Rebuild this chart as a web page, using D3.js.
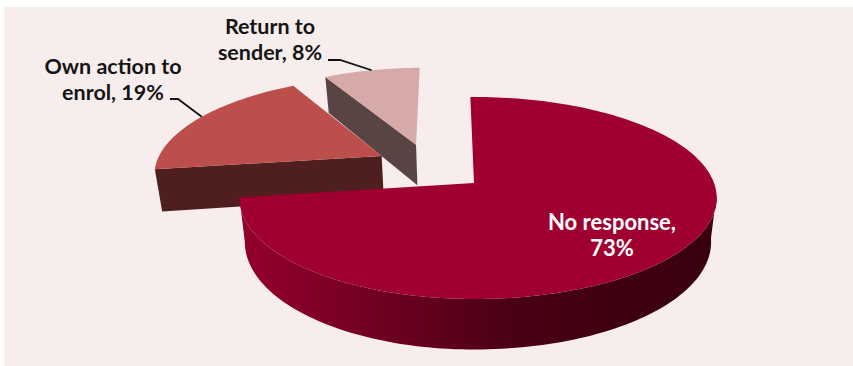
<!DOCTYPE html>
<html>
<head>
<meta charset="utf-8">
<script src="https://cdnjs.cloudflare.com/ajax/libs/d3/7.8.5/d3.min.js"></script>
<style>
  html, body { margin: 0; padding: 0; background: #fff; }
  svg { display: block; }
  text { font-family: Lato, "Open Sans", sans-serif; font-weight: 700; }
</style>
</head>
<body>
<svg id="chart" width="853" height="366"></svg>
<script>
// Share of each outcome, in drawing order around the pie
const categories = ["No response", "Own action to enrol", "Return to sender"];
const shares = [73, 19, 8];
const topColours = ["#a00030", "#bc4f4b", "#d8a9a9"];
const wallColours = ["#5a001c", "#4f1e1e", "#584543"];
const labelLines = [["No response,", "73%"], ["Own action to", "enrol, 19%"], ["Return to", "sender, 8%"]];
const labelColours = ["#ffffff", "#151515", "#151515"];
// How far each slice is pulled out of the pie, in disc units (across, depth)
const explodeOffsets = [[0, 0], [-0.415, -0.285], [-0.265, -0.41]];

const W = 853, H = 366;
const svg = d3.select("#chart");

// Tilted-disc projection: nearer points are drawn larger
const cx = 474, cy = 183, rxRight = 240, rxLeft = 232, ry = 98.8, persp = 0.1485;
const thickness = 43, bottomShrink = 0.977;

function project(u, v, lower) {
  const d = 1 - persp * v;
  let x = cx + (u < 0 ? rxLeft : rxRight) * u / d;
  let y = cy + ry * v / d;
  if (lower) {
    x = cx + (x - cx) * bottomShrink;
    y += thickness / d;
  }
  return [x, y];
}

const pie = d3.pie().sort(null).value(d => d).startAngle(-0.018);
const arcs = pie(shares);

// Angles along a slice's rim, sampled finely enough to read as a curve
function rimAngles(a) {
  const steps = Math.max(8, Math.round((a.endAngle - a.startAngle) * 40));
  return d3.range(steps + 1).map(i => a.startAngle + (a.endAngle - a.startAngle) * i / steps);
}
const rimPoint = (t, off, lower) => project(Math.sin(t) + off[0], -Math.cos(t) + off[1], lower);

const line = d3.line();
const closed = pts => line(pts) + "Z";

// Backdrop panel
svg.append("rect").attr("width", W).attr("height", H).attr("fill", "#ffffff");
svg.append("rect").attr("x", 4).attr("y", 7).attr("width", W - 4).attr("height", H - 7).attr("fill", "#f8eded");

// Horizontal shading along the round wall of the large slice
const grad = svg.append("defs").append("linearGradient")
  .attr("id", "rimShade").attr("gradientUnits", "userSpaceOnUse")
  .attr("x1", 240).attr("x2", 716).attr("y1", 0).attr("y2", 0);
[[0, "#93002c"], [0.2, "#7c0026"], [0.42, "#5e001c"], [0.6, "#480014"], [0.8, "#3e0010"], [1, "#3a0010"]]
  .forEach(s => grad.append("stop").attr("offset", s[0]).attr("stop-color", s[1]));

// Slices are painted back to front
[2, 1, 0].forEach(i => {
  const a = arcs[i], off = explodeOffsets[i];
  const g = svg.append("g").attr("class", "slice");
  const angles = rimAngles(a);
  const upper = angles.map(t => rimPoint(t, off, false));

  // round outer wall, only where the rim faces the viewer
  const front = angles.filter(t => -Math.cos(t) + off[1] >= 0.1);
  if (front.length > 1) {
    const wallTop = front.map(t => rimPoint(t, off, false));
    const wallBottom = front.map(t => rimPoint(t, off, true)).reverse();
    g.append("path")
      .attr("d", closed(wallTop.concat(wallBottom)))
      .attr("fill", i === 0 ? "url(#rimShade)" : wallColours[i]);
  }

  // flat cut wall facing the viewer on the pulled-out slices
  if (i > 0) {
    const apexUp = project(off[0], off[1], false), apexLow = project(off[0], off[1], true);
    const t0 = a.startAngle;
    g.append("path")
      .attr("d", closed([rimPoint(t0, off, false), apexUp, apexLow, rimPoint(t0, off, true)]))
      .attr("fill", wallColours[i]);
  }

  // top face
  g.append("path")
    .attr("d", closed([project(off[0], off[1], false)].concat(upper)))
    .attr("fill", topColours[i]);
});

// Leader lines: from beside the label to a point on the slice rim
const leaders = [
  { from: [170, 99], bend: [178, 99], slice: 1, at: 0.52 },
  { from: [328, 60], bend: [340, 60], slice: 2, at: 0.5 }
];
leaders.forEach(l => {
  const a = arcs[l.slice];
  const t = a.startAngle + (a.endAngle - a.startAngle) * l.at;
  svg.append("path").attr("d", line([l.from, l.bend, rimPoint(t, explodeOffsets[l.slice], false)]))
    .attr("fill", "none").attr("stroke", "#111").attr("stroke-width", 1.8);
});

// Category labels
const labelAnchors = [[612, 230], [113, 74], [270, 34]];
const labelSizes = [22, 21.5, 21.5];
labelLines.forEach((lines, i) => {
  const t = svg.append("text")
    .attr("text-anchor", "middle")
    .attr("font-size", labelSizes[i])
    .attr("fill", labelColours[i]);
  lines.forEach((s, j) => t.append("tspan")
    .attr("x", labelAnchors[i][0])
    .attr("y", labelAnchors[i][1] + j * 25.5)
    .text(s));
});
</script>
</body>
</html>
